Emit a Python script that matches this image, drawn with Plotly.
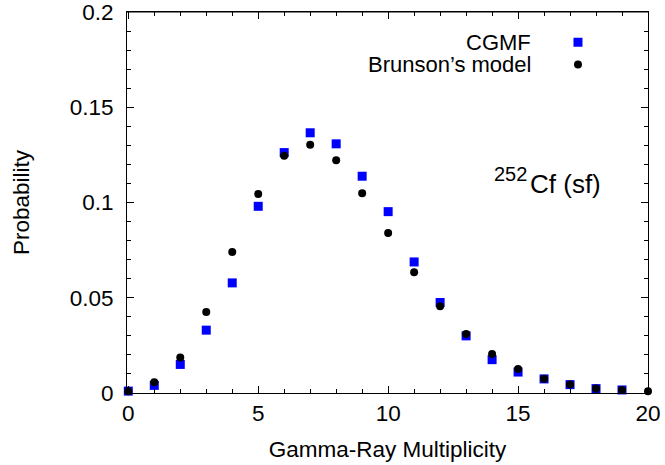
import plotly.graph_objects as go

# Gamma-ray multiplicity distributions for 252Cf spontaneous fission
mult_cgmf = list(range(0, 20))
prob_cgmf = [0.001, 0.004, 0.015, 0.033, 0.0578, 0.098, 0.1262, 0.1366, 0.1308, 0.1138,
             0.0952, 0.0688, 0.0475, 0.030, 0.0175, 0.011, 0.0074, 0.0044, 0.0023, 0.0016]

mult_brunson = list(range(0, 21))
prob_brunson = [0.0009, 0.0056, 0.0186, 0.0425, 0.074, 0.1044, 0.1245, 0.1303, 0.1222, 0.1049,
                0.084, 0.0634, 0.0455, 0.031, 0.0205, 0.0126, 0.0075, 0.0044, 0.0023, 0.0016,
                0.0009]

label_cgmf = "CGMF"
label_brunson = "Brunson\u2019s model"

FONT = "Liberation Sans, Arial, Helvetica, sans-serif"
FS = 22.5
X_RANGE = [-0.05, 20]

fig = go.Figure()
fig.add_trace(go.Scatter(
    x=mult_cgmf, y=prob_cgmf, mode="markers", name=label_cgmf,
    marker=dict(symbol="square", size=9, color="#0000ff", line=dict(width=0)),
    cliponaxis=False, showlegend=False))
fig.add_trace(go.Scatter(
    x=mult_brunson, y=prob_brunson, mode="markers", name=label_brunson,
    marker=dict(symbol="circle", size=8, color="#000000", line=dict(width=0)),
    cliponaxis=False, showlegend=False))

axis_common = dict(
    showline=True, linecolor="black", linewidth=1, mirror="ticks",
    ticks="inside", tickcolor="black", tickwidth=1, ticklen=7,
    showgrid=False, zeroline=False, automargin=False, ticklabeloverflow="allow",
    tickfont=dict(family=FONT, size=FS, color="black"),
)

fig.update_xaxes(
    range=X_RANGE, tick0=0, dtick=5,
    minor=dict(dtick=1, ticks="inside", ticklen=4, tickcolor="black", showgrid=False),
    title=dict(text="Gamma-Ray Multiplicity", font=dict(family=FONT, size=FS, color="black"),
               standoff=16),
    **axis_common)
fig.update_yaxes(
    range=[0, 0.2], tick0=0, dtick=0.05,
    minor=dict(dtick=0.01, ticks="inside", ticklen=4, tickcolor="black", showgrid=False),
    title=dict(text="Probability", font=dict(family=FONT, size=FS, color="black"),
               standoff=33),
    ticklabelstandoff=8,
    **axis_common)

# Top frame edge with its own inward ticks
fig.update_layout(xaxis2=dict(
    overlaying="x", side="top", anchor="y", matches="x", range=X_RANGE,
    showline=True, linecolor="black", linewidth=1,
    ticks="inside", tickcolor="black", tickwidth=1, ticklen=7,
    tick0=0, dtick=5, showticklabels=False, showgrid=False, zeroline=False,
    minor=dict(dtick=1, ticks="inside", ticklen=4, tickcolor="black", showgrid=False),
))
fig.add_trace(go.Scatter(x=[0, 20], y=[None, None], xaxis="x2", yaxis="y",
                         mode="markers", showlegend=False, hoverinfo="skip"))
fig.add_shape(type="line", xref="paper", yref="paper", x0=0, x1=1, y0=1, y1=1,
              line=dict(color="black", width=1))

# Legend: right-aligned labels with symbols placed to their right
legend_rows = [(label_cgmf, 0.9206, "square", "#0000ff", 9),
               (label_brunson, 0.862, "circle", "#000000", 8)]
for text, ypos, sym, col, sz in legend_rows:
    fig.add_annotation(x=0.7793, y=ypos, xref="paper", yref="paper", text=text,
                       showarrow=False, xanchor="right", yanchor="middle",
                       font=dict(family=FONT, size=22, color="black"))
    fig.add_shape(type="rect" if sym == "square" else "circle",
                  xref="paper", yref="paper", xsizemode="pixel", ysizemode="pixel",
                  xanchor=0.8656, yanchor=ypos,
                  x0=-sz / 2, x1=sz / 2, y0=-sz / 2, y1=sz / 2,
                  fillcolor=col, line=dict(width=0))

# Nuclide label: mass number raised in front of the element symbol
fig.add_annotation(x=0.7005, y=0.574, xref="paper", yref="paper", text="252",
                   showarrow=False, xanchor="left", yanchor="middle",
                   font=dict(family=FONT, size=20, color="black"))
fig.add_annotation(x=0.769, y=0.549, xref="paper", yref="paper", text="Cf (sf)",
                   showarrow=False, xanchor="left", yanchor="middle",
                   font=dict(family=FONT, size=26, color="black"))

fig.update_layout(
    width=665, height=465,
    margin=dict(l=127, r=17, t=12, b=72),
    paper_bgcolor="white", plot_bgcolor="white",
    font=dict(family=FONT, color="black"),
)

fig.write_html("out.html")
